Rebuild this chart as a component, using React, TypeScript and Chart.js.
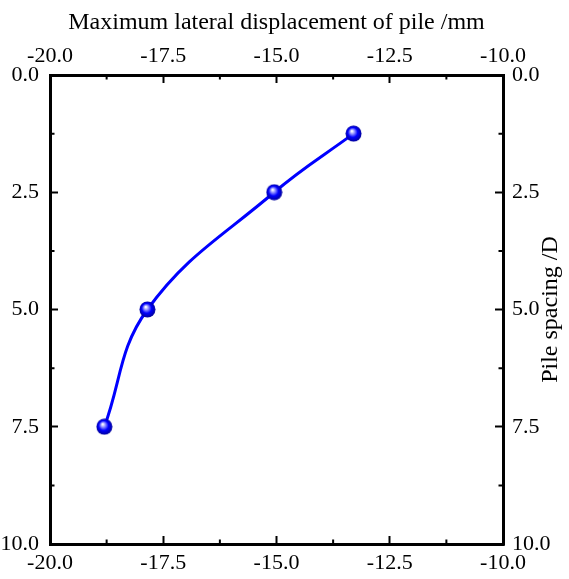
import React, { useEffect, useRef } from 'react';
import { Chart, registerables } from 'chart.js';

Chart.register(...registerables);

const displacement = [-13.3, -15.05, -17.85, -18.8];
const pileSpacing = [1.25, 2.5, 5.0, 7.5];
const xMajorTicks = [-20, -17.5, -15, -12.5, -10];
const xMinorTicks = [-18.75, -16.25, -13.75, -11.25];
const yMajorTicks = [0, 2.5, 5, 7.5, 10];
const yMinorTicks = [1.25, 3.75, 6.25, 8.75];
const xTitle = 'Maximum lateral displacement of pile /mm';
const yTitle = 'Pile spacing /D';

const FONT = 'Liberation Serif';

function makeSphere(size: number): HTMLCanvasElement {
  const c = document.createElement('canvas');
  c.width = size;
  c.height = size;
  const g = c.getContext('2d')!;
  const r = size / 2;
  const grad = g.createRadialGradient(r * 0.8, r * 0.7, r * 0.05, r, r, r);
  grad.addColorStop(0, '#ffffff');
  grad.addColorStop(0.22, '#9a9aff');
  grad.addColorStop(0.55, '#0000ff');
  grad.addColorStop(1, '#000090');
  g.fillStyle = grad;
  g.beginPath();
  g.arc(r, r, r - 0.5, 0, Math.PI * 2);
  g.fill();
  return c;
}

const minorTickPlugin = {
  id: 'minorTicks',
  afterDraw(chart: any) {
    const { ctx, chartArea } = chart;
    const len = 4.5;
    ctx.save();
    ctx.strokeStyle = '#000';
    ctx.lineWidth = 2;
    ctx.beginPath();
    for (const v of xMinorTicks) {
      const px = chart.scales.x.getPixelForValue(v);
      ctx.moveTo(px, chartArea.bottom);
      ctx.lineTo(px, chartArea.bottom - len);
      const px2 = chart.scales.x2.getPixelForValue(v);
      ctx.moveTo(px2, chartArea.top);
      ctx.lineTo(px2, chartArea.top + len);
    }
    for (const v of yMinorTicks) {
      const py = chart.scales.y.getPixelForValue(v);
      ctx.moveTo(chartArea.left, py);
      ctx.lineTo(chartArea.left + len, py);
      const py2 = chart.scales.y2.getPixelForValue(v);
      ctx.moveTo(chartArea.right, py2);
      ctx.lineTo(chartArea.right - len, py2);
    }
    ctx.stroke();
    ctx.restore();
  },
};

const rightTitlePlugin = {
  id: 'rightTitle',
  afterDraw(chart: any) {
    const { ctx, chartArea } = chart;
    ctx.save();
    ctx.font = `24px "${FONT}"`;
    ctx.fillStyle = '#000';
    ctx.translate(chartArea.right + 48, (chartArea.top + chartArea.bottom) / 2);
    ctx.rotate(-Math.PI / 2);
    ctx.textAlign = 'center';
    ctx.textBaseline = 'middle';
    ctx.fillText(yTitle, 0, 0);
    ctx.restore();
  },
};

function axis(opts: any) {
  const { min, max, reverse, position, size, padding, major, title } = opts;
  const horizontal = position === 'top' || position === 'bottom';
  return {
    type: 'linear',
    position,
    min,
    max,
    reverse: !!reverse,
    border: { display: true, color: '#000', width: 3 },
    grid: {
      drawOnChartArea: false,
      drawTicks: true,
      tickLength: -8,
      tickWidth: 2,
      tickColor: '#000',
    },
    ticks: {
      font: { family: FONT, size: 22 },
      color: '#000',
      padding,
      maxRotation: 0,
      minRotation: 0,
      autoSkip: false,
      callback: (v: any) => Number(v).toFixed(1),
    },
    title: title
      ? {
          display: true,
          text: title,
          color: '#000',
          font: { family: FONT, size: 24 },
          padding: { top: 8, bottom: 0 },
        }
      : { display: false },
    afterBuildTicks: (s: any) => {
      s.ticks = major.map((value: number) => ({ value }));
    },
    afterFit: (s: any) => {
      if (horizontal) s.height = size;
      else s.width = size;
    },
  };
}

export default function App() {
  const ref = useRef<HTMLCanvasElement>(null);

  useEffect(() => {
    document.body.style.margin = '0';
    const sphere = makeSphere(17);
    const chart = new Chart(ref.current!, {
      type: 'line',
      data: {
        datasets: [
          {
            data: displacement.map((x, i) => ({ x, y: pileSpacing[i] })),
            borderColor: '#0000ff',
            borderWidth: 3,
            tension: 0.4,
            pointStyle: sphere as any,
            pointRadius: 8,
            xAxisID: 'x',
            yAxisID: 'y',
            clip: false as any,
          },
        ],
      },
      options: {
        animation: false,
        responsive: true,
        maintainAspectRatio: false,
        layout: { padding: 0 },
        plugins: { legend: { display: false }, tooltip: { enabled: false } },
        scales: {
          x: axis({ min: -20, max: -10, position: 'bottom', size: 35, padding: 14, major: xMajorTicks }),
          x2: axis({ min: -20, max: -10, position: 'top', size: 75, padding: 14, major: xMajorTicks, title: xTitle }),
          y: axis({ min: 0, max: 10, reverse: true, position: 'left', size: 50, padding: 19, major: yMajorTicks }),
          y2: axis({ min: 0, max: 10, reverse: true, position: 'right', size: 66, padding: 17, major: yMajorTicks }),
        } as any,
      },
      plugins: [minorTickPlugin, rightTitlePlugin],
    });
    return () => chart.destroy();
  }, []);

  return (
    <div style={{ width: 569, height: 579, position: 'relative', background: '#fff' }}>
      <canvas ref={ref} />
    </div>
  );
}
